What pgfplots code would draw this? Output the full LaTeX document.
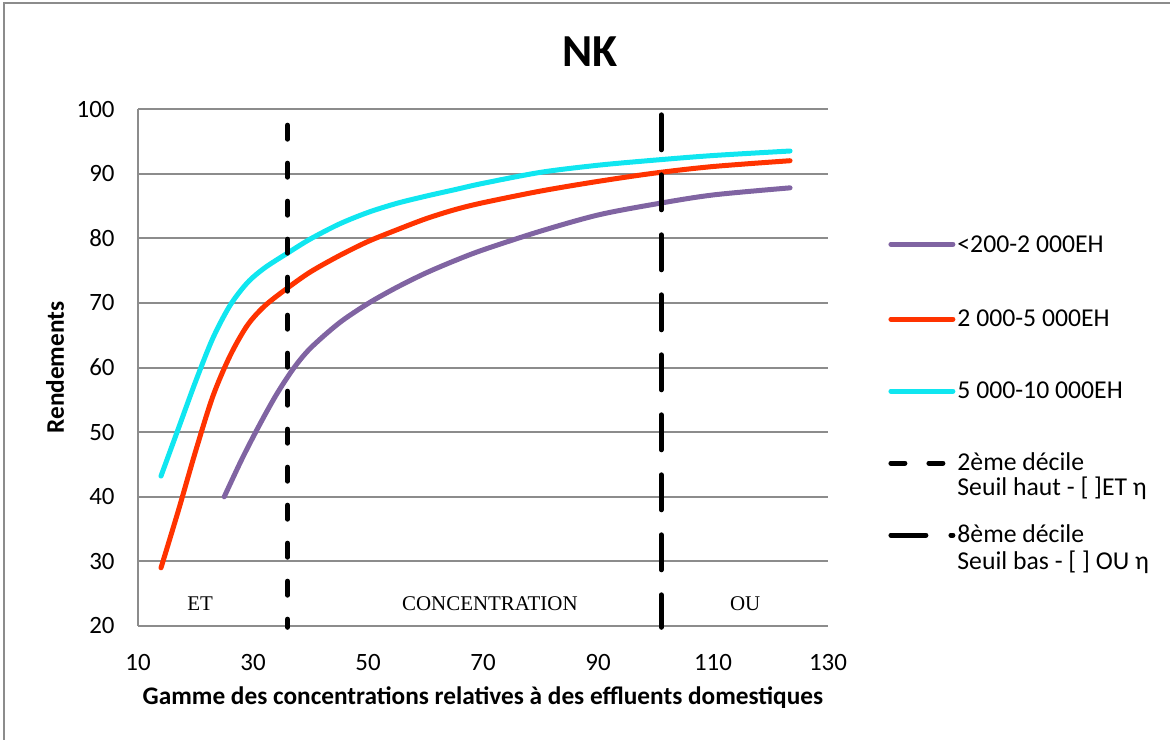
\documentclass[border=0pt]{standalone}
\usepackage{fontspec}
\setmainfont{Carlito}
\newfontfamily\seriffont{Liberation Serif}
\usepackage{pgfplots}
\pgfplotsset{compat=1.18}
\definecolor{cpurple}{RGB}{128,100,162}
\definecolor{cred}{RGB}{255,51,0}
\definecolor{ccyan}{RGB}{16,230,240}
\definecolor{cgrid}{RGB}{140,140,140}
\newcommand{\st}[2]{\rule[-#2]{0pt}{\dimexpr#1+#2\relax}}
\begin{document}
\begin{tikzpicture}
\useasboundingbox (0,0) rectangle (585bp,370bp);
\draw[cgrid, line width=1bp] (2bp,0) -- (2bp,368.5bp) -- (585bp,368.5bp);
\node[font=\bfseries\fontsize{23}{27}\selectfont] at (295bp,344bp) {NK};
\begin{axis}[
  at={(69bp,57bp)}, anchor=south west,
  scale only axis, width=345bp, height=258.5bp,
  xmin=10, xmax=130, ymin=20, ymax=100,
  xtick={10,30,...,130}, ytick={20,30,...,100},
  axis x line=bottom, axis y line=left,
  axis line style={cgrid, line width=1bp, -},
  major tick length=0pt,
  ymajorgrids, grid style={cgrid, line width=1bp},
  /pgf/number format/assume math mode=true,
  tick label style={font=\fontsize{12.5}{15}\selectfont, inner sep=0pt},
  yticklabel style={xshift=-11.5bp},
  xticklabel style={yshift=-14bp},
  xlabel={Gamme des concentrations relatives à des effluents domestiques},
  ylabel={Rendements},
  label style={font=\bfseries\fontsize{12.7}{15}\selectfont},
  xlabel style={at={(axis description cs:0.5,-0.139)}, anchor=center},
  ylabel style={at={(axis description cs:-0.120,0.5)}, anchor=center},
  clip=false,
  legend image code/.code={\draw[#1] (1.25bp,3.9bp) -- (32.25bp,3.9bp);},
  legend cell align=left,
  legend style={draw=none, fill=none, at={(1.087,0.759)}, anchor=north west,
    inner sep=0pt, row sep=0pt,
    font=\fontsize{12.9}{15}\selectfont,
    nodes={inner sep=0pt},
    cells={anchor=base west},
    /tikz/every odd column/.append style={column sep=1bp}},
]
\addplot[cpurple, line width=2.5bp, smooth, line cap=round] coordinates {
(25,40) (28,45.7) (31,50.9) (34,55.7) (37,59.8) (40,63.0) (45,66.9) (50,69.9)
(55,72.4) (60,74.6) (65,76.5) (70,78.2) (80,81.1) (90,83.6) (100,85.3) (110,86.7)
(123.4,87.8)};
\addlegendentry{\st{9bp}{3bp}<200-2 000EH}
\addplot[cred, line width=2.5bp, smooth, line cap=round] coordinates {
(14,29) (17,37.8) (20,47) (23,55.5) (26,61.8) (29,66.5) (32,69.5) (36,72.3)
(40,74.8) (45,77.3) (50,79.5) (55,81.3) (60,83.0) (65,84.4) (70,85.5) (80,87.3)
(90,88.8) (100,90.1) (110,91.1) (123.4,92)};
\addlegendentry{\st{36bp}{3bp}2 000-5 000EH}
\addplot[ccyan, line width=2.5bp, smooth, line cap=round] coordinates {
(14,43.2) (17,50.5) (20,57.8) (23,64.5) (26,69.6) (29,73.1) (32,75.4) (36,77.7)
(40,79.9) (45,82.2) (50,84.0) (55,85.4) (60,86.5) (65,87.5) (70,88.5) (80,90.2)
(90,91.3) (100,92.1) (110,92.8) (123.4,93.5)};
\addlegendentry{\st{34.5bp}{3bp}5 000-10 000EH}
\addplot[black, line width=2.5bp, line cap=round, dash pattern=on 7bp off 12bp] coordinates {
(36,97.5) (36,19.8)};
\addlegendentry{\st{34.5bp}{3bp}2ème décile}
\addlegendimage{empty legend}
\addlegendentry{\st{11bp}{3bp}Seuil haut - [ ]ET η}
\addplot[black, line width=2.5bp, line cap=round, dash pattern=on 17.5bp off 12.5bp] coordinates {
(101,99.1) (101,19.8)};
\addlegendentry{\st{22bp}{3bp}8ème décile}
\addlegendimage{empty legend}
\addlegendentry{\st{12bp}{3bp}Seuil bas - [ ] OU η}
\node[font=\seriffont\fontsize{10.5}{12}\selectfont] at (axis cs:20.8,23.4) {ET};
\node[font=\seriffont\fontsize{10.5}{12}\selectfont] at (axis cs:71.2,23.4) {CONCENTRATION};
\node[font=\seriffont\fontsize{10.5}{12}\selectfont] at (axis cs:115.6,23.4) {OU};
\end{axis}
\end{tikzpicture}
\end{document}
